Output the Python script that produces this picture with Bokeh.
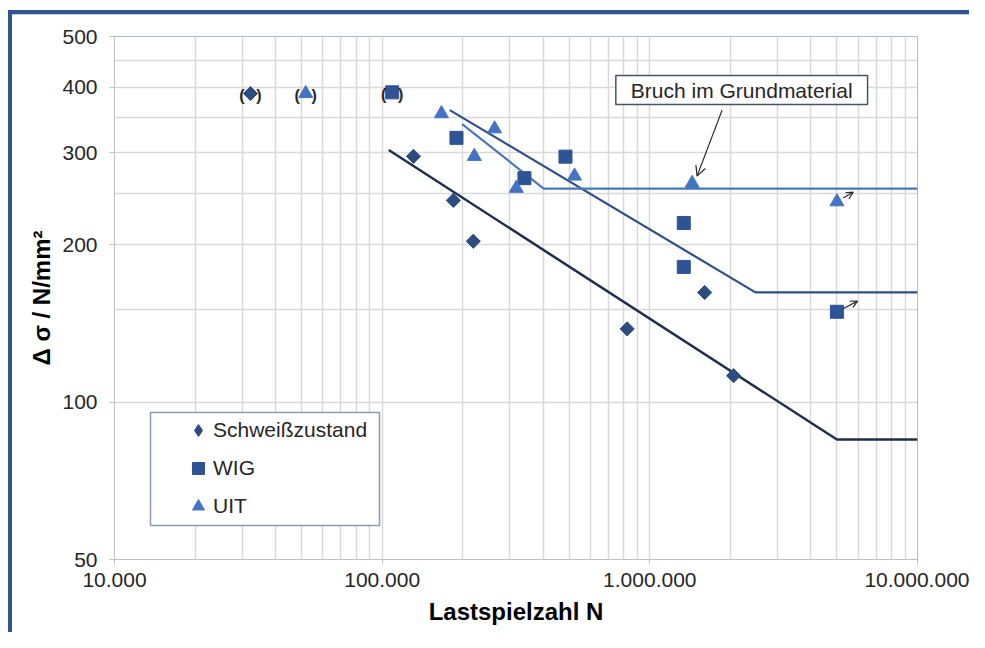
from bokeh.plotting import figure
from bokeh.models import (Range1d, FixedTicker, Legend, LegendItem, Label, Arrow,
                          OpenHead, BoxAnnotation, ColumnDataSource)
from bokeh.core.properties import value
from bokeh.embed import file_html
from bokeh.resources import INLINE

# ---------------- data ----------------
sz_N = [32200, 130900, 184500, 219000, 823000, 1603000, 2055000]
sz_S = [389, 295, 243, 203, 138, 162, 112.3]
sz_bracket = [True, False, False, False, False, False, False]

wig_N = [109000, 189500, 340000, 484000, 1339000, 1339000, 5000000]
wig_S = [391, 320, 268, 294.6, 220, 181.3, 148.8]
wig_bracket = [True, False, False, False, False, False, False]
wig_runout = [False, False, False, False, False, False, True]

uit_N = [51800, 166500, 221000, 263000, 317000, 523000, 1439000, 5000000]
uit_S = [389, 356, 295, 333, 256.3, 270.5, 261.9, 241.5]
uit_bracket = [True, False, False, False, False, False, False, False]
uit_runout = [False, False, False, False, False, False, False, True]

sz_line_N = [105800, 5000000, 10000000]
sz_line_S = [303.3, 84.8, 84.8]
wig_line_N = [178900, 2480000, 10000000]
wig_line_S = [361.6, 162.1, 162.1]
uit_line_N = [199000, 401000, 10000000]
uit_line_S = [340, 256, 256]

x_ticks = [10000, 100000, 1000000, 10000000]
x_tick_labels = ["10.000", "100.000", "1.000.000", "10.000.000"]
x_minor = [k * 10 ** e for e in (4, 5, 6) for k in range(2, 10)]
y_ticks = [50, 100, 200, 300, 400, 500]
y_tick_labels = ["50", "100", "200", "300", "400", "500"]
y_minor = [150, 250, 350, 450]

series_labels = ["Schwei\u00dfzustand", "WIG", "UIT"]
annot_text = "Bruch im Grundmaterial"
annot_pos = (2204000, 395)
annot_arrow = (1862000, 361.6, 1501000, 270.4)

FONT = "Liberation Sans"
TXT = "#262626"
C_SZ = "#2D4C80"
C_WIG = "#2F5495"
C_UIT = "#4472C4"
L_SZ = "#1F2E4C"
L_WIG = "#2E4F88"
L_UIT = "#4A76BE"
FRAME_BLUE = "#2E5591"

# ---------------- figure ----------------
p = figure(width=969, height=632, x_axis_type="log", y_axis_type="log",
           x_range=Range1d(1e4, 1e7), y_range=Range1d(50, 500),
           output_backend="svg", toolbar_location=None,
           min_border_left=114, min_border_right=52,
           min_border_top=36, min_border_bottom=73)
p.background_fill_color = "white"
p.border_fill_color = "white"
p.border_fill_alpha = 0
p.styles = {
    "background": (
        f"linear-gradient({FRAME_BLUE}, {FRAME_BLUE}) 8px 10px / 4px 622px no-repeat, "
        f"linear-gradient({FRAME_BLUE}, {FRAME_BLUE}) 8px 10px / 961px 4px no-repeat, "
        "linear-gradient(#c9ccd3, #c9ccd3) 12px 14px / 957px 1px no-repeat, "
        "#ffffff"
    )
}
p.outline_line_color = "#AEBACB"
p.outline_line_width = 1

p.xaxis.ticker = FixedTicker(ticks=x_ticks, minor_ticks=x_minor)
p.yaxis.ticker = FixedTicker(ticks=y_ticks, minor_ticks=y_minor)
p.xaxis.major_label_overrides = {t: l for t, l in zip(x_ticks, x_tick_labels)}
p.yaxis.major_label_overrides = {t: l for t, l in zip(y_ticks, y_tick_labels)}

for ax in (p.xaxis, p.yaxis):
    ax.axis_line_color = "#BFBFBF"
    ax.major_tick_line_color = "#BFBFBF"
    ax.major_tick_out = 5
    ax.major_tick_in = 0
    ax.minor_tick_out = 0
    ax.minor_tick_in = 0
    ax.major_label_text_font = FONT
    ax.major_label_text_font_size = "21px"
    ax.major_label_text_color = TXT
    ax.axis_label_text_font = FONT
    ax.axis_label_text_font_size = "24px"
    ax.axis_label_text_font_style = "bold"
    ax.axis_label_text_color = "black"

p.xaxis.axis_label = "Lastspielzahl N"
p.yaxis.axis_label = "\u0394 \u03c3 / N/mm\u00b2"
p.xaxis.major_label_standoff = 8
p.yaxis.major_label_standoff = 12
p.xaxis.axis_label_standoff = 8
p.yaxis.axis_label_standoff = 4

for g in (p.xgrid, p.ygrid):
    g.grid_line_color = "#D9D9D9"
    g.grid_line_width = 1.5
    g.minor_grid_line_color = "#D9D9D9"
    g.minor_grid_line_width = 1.5

# S-N lines
p.line(sz_line_N, sz_line_S, line_color=L_SZ, line_width=2.5)
p.line(wig_line_N, wig_line_S, line_color=L_WIG, line_width=2.2)
p.line(uit_line_N, uit_line_S, line_color=L_UIT, line_width=2.2)

# points (the narrow diamond sits hidden under the rotated square; it gives the legend symbol)
r_sz_leg = p.scatter(sz_N, sz_S, marker="diamond", size=13,
                     fill_color=C_SZ, line_color=C_SZ)
r_sz = p.scatter(sz_N, sz_S, marker="square", angle=0.7853981634, size=10,
                 fill_color=C_SZ, line_color=C_SZ)
r_wig = p.scatter(wig_N, wig_S, marker="square", size=13,
                  fill_color=C_WIG, line_color=C_WIG)
r_uit = p.scatter(uit_N, uit_S, marker="triangle", size=14,
                  fill_color=C_UIT, line_color=C_UIT)

# brackets around excluded points
bN, bS = [], []
for N, S, B in ((sz_N, sz_S, sz_bracket), (wig_N, wig_S, wig_bracket),
                (uit_N, uit_S, uit_bracket)):
    for n, s, b in zip(N, S, B):
        if b:
            bN.append(n)
            bS.append(s)
bsrc = ColumnDataSource(dict(x=bN, y=bS))
for txt, off in (("(", -8.5), (")", 8.5)):
    p.text(x="x", y="y", source=bsrc, text=value(txt), x_offset=off, y_offset=2,
           text_align="center", text_baseline="middle",
           text_font=value(FONT), text_font_size="16px", text_font_style="bold",
           text_color=TXT)

# run-out arrows
for N, S, R, f in ((uit_N, uit_S, uit_runout, (1.056, 1.0164, 1.150, 1.0436)),
                   (wig_N, wig_S, wig_runout, (1.058, 1.015, 1.194, 1.048))):
    for n, s, r in zip(N, S, R):
        if r:
            p.add_layout(Arrow(end=OpenHead(size=7, line_width=1.2, line_color=TXT),
                               x_start=n * f[0], y_start=s * f[1],
                               x_end=n * f[2], y_end=s * f[3],
                               line_width=1.2, line_color=TXT))

# annotation
p.add_layout(Label(x=annot_pos[0], y=annot_pos[1], text=annot_text, anchor="center",
                   text_font=FONT, text_font_size="21px", text_color=TXT,
                   background_fill_color="white", border_line_color="#44546A",
                   border_line_width=1.5,
                   padding=dict(left=15, right=15, top=3, bottom=3)))
p.add_layout(Arrow(end=OpenHead(size=10, line_width=1.2, line_color=TXT),
                   x_start=annot_arrow[0], y_start=annot_arrow[1],
                   x_end=annot_arrow[2], y_end=annot_arrow[3],
                   line_width=1.2, line_color=TXT))

# legend frame (screen units relative to the plot frame)
p.add_layout(BoxAnnotation(left=36, right=265, bottom=34, top=147,
                           left_units="screen", right_units="screen",
                           bottom_units="screen", top_units="screen",
                           fill_color="white", fill_alpha=1,
                           line_color="#8C9BB5", line_width=1.5, line_alpha=1))

legend = Legend(items=[LegendItem(label=series_labels[0], renderers=[r_sz_leg]),
                       LegendItem(label=series_labels[1], renderers=[r_wig]),
                       LegendItem(label=series_labels[2], renderers=[r_uit])],
                location=(69, 37), orientation="vertical",
                padding=0, spacing=6, glyph_width=30, glyph_height=32,
                label_standoff=-2, label_height=32, margin=0,
                label_text_font=FONT, label_text_font_size="21px",
                label_text_color=TXT,
                border_line_alpha=0, background_fill_alpha=0)
p.add_layout(legend)

open("out.html", "w").write(file_html(p, INLINE))
